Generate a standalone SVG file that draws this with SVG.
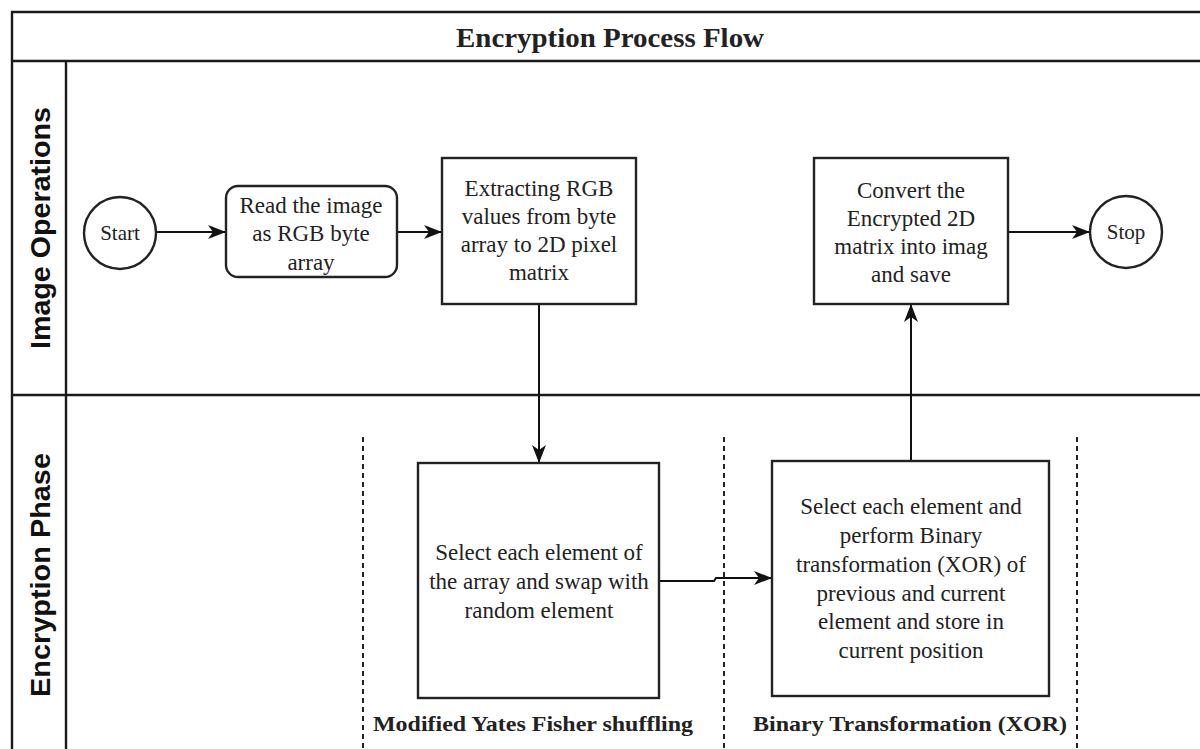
<svg xmlns="http://www.w3.org/2000/svg" width="1200" height="749" viewBox="0 0 1200 749">
<style>
.frame{fill:none;stroke:#1a1a1a;stroke-width:2.4}
.box{fill:#fff;stroke:#222;stroke-width:2.4}
.conn{fill:none;stroke:#111;stroke-width:2}
.sep{fill:none;stroke:#222;stroke-width:2;stroke-dasharray:5 4}
.t{font-family:"Liberation Serif","Times New Roman",serif;font-size:23px;fill:#222;text-anchor:middle}
.ts{font-family:"Liberation Serif","Times New Roman",serif;font-size:21px;fill:#222;text-anchor:middle}
.lane{font-family:"Liberation Sans",Arial,sans-serif;font-size:28px;font-weight:bold;fill:#111;text-anchor:middle}
.title{font-family:"Liberation Serif","Times New Roman",serif;font-size:28px;font-weight:bold;fill:#222;text-anchor:middle}
.cap{font-family:"Liberation Serif","Times New Roman",serif;font-size:22px;font-weight:bold;fill:#222;text-anchor:middle}
</style>
<defs>
<marker id="arr" viewBox="0 0 18 14" refX="18" refY="7" markerWidth="18" markerHeight="14" markerUnits="userSpaceOnUse" orient="auto">
<path d="M0,0 L18,7 L0,14 L5,7 Z" fill="#111"/>
</marker>
</defs>
<rect width="1200" height="749" fill="#fff"/>
<g id="pool">
<path class="frame" d="M1201,12 H12 V750"/>
<path class="frame" d="M12,61 H1201"/>
<path class="frame" d="M66,61 V750"/>
<path class="frame" d="M12,395 H1201"/>
<text class="title" x="610" y="47" textLength="308" lengthAdjust="spacingAndGlyphs">Encryption Process Flow</text>
</g>
<g id="lane-image-operations">
<text class="lane" transform="translate(50,228) rotate(-90)" x="0" y="0" textLength="242" lengthAdjust="spacingAndGlyphs">Image Operations</text>
</g>
<g id="lane-encryption-phase">
<text class="lane" transform="translate(50,575) rotate(-90)" x="0" y="0" textLength="244" lengthAdjust="spacingAndGlyphs">Encryption Phase</text>
</g>
<g id="separators">
<line class="sep" x1="363" y1="437" x2="363" y2="750"/>
<line class="sep" x1="724" y1="437" x2="724" y2="750"/>
<line class="sep" x1="1077" y1="437" x2="1077" y2="750"/>
</g>
<g id="connectors">
<line class="conn" x1="156" y1="232" x2="226" y2="232" marker-end="url(#arr)"/>
<line class="conn" x1="397" y1="232" x2="442" y2="232" marker-end="url(#arr)"/>
<line class="conn" x1="539" y1="304" x2="539" y2="463" marker-end="url(#arr)"/>
<path class="conn" d="M659,581 H714 L716,578 H772" marker-end="url(#arr)"/>
<line class="conn" x1="911" y1="461" x2="911" y2="304" marker-end="url(#arr)"/>
<line class="conn" x1="1008" y1="232" x2="1090" y2="232" marker-end="url(#arr)"/>
</g>
<g id="start">
<circle class="box" cx="120" cy="233" r="36"/>
<text class="ts" x="120" y="240">Start</text>
</g>
<g id="read-image">
<rect class="box" x="226" y="186" width="171" height="91" rx="12"/>
<text class="t" x="311" y="213">Read the image</text>
<text class="t" x="311" y="241">as RGB byte</text>
<text class="t" x="311" y="270">array</text>
</g>
<g id="extract-rgb">
<rect class="box" x="442" y="158" width="194" height="146"/>
<text class="t" x="539" y="196">Extracting RGB</text>
<text class="t" x="539" y="224">values from byte</text>
<text class="t" x="539" y="252">array to 2D pixel</text>
<text class="t" x="539" y="280">matrix</text>
</g>
<g id="convert-save">
<rect class="box" x="814" y="158" width="194" height="146"/>
<text class="t" x="911" y="198">Convert the</text>
<text class="t" x="911" y="226">Encrypted 2D</text>
<text class="t" x="911" y="254">matrix into imag</text>
<text class="t" x="911" y="282">and save</text>
</g>
<g id="stop">
<circle class="box" cx="1126" cy="232" r="36"/>
<text class="ts" x="1126" y="239">Stop</text>
</g>
<g id="shuffle">
<rect class="box" x="418" y="463" width="241" height="235"/>
<text class="t" x="539" y="560">Select each element of</text>
<text class="t" x="539" y="589">the array and swap with</text>
<text class="t" x="539" y="618">random element</text>
<text class="cap" x="533" y="731" textLength="320" lengthAdjust="spacingAndGlyphs">Modified Yates Fisher shuffling</text>
</g>
<g id="xor">
<rect class="box" x="772" y="461" width="277" height="235"/>
<text class="t" x="911" y="514">Select each element and</text>
<text class="t" x="911" y="543">perform Binary</text>
<text class="t" x="911" y="572">transformation (XOR) of</text>
<text class="t" x="911" y="601">previous and current</text>
<text class="t" x="911" y="629">element and store in</text>
<text class="t" x="911" y="658">current position</text>
<text class="cap" x="910" y="731" textLength="314" lengthAdjust="spacingAndGlyphs">Binary Transformation (XOR)</text>
</g>
</svg>
